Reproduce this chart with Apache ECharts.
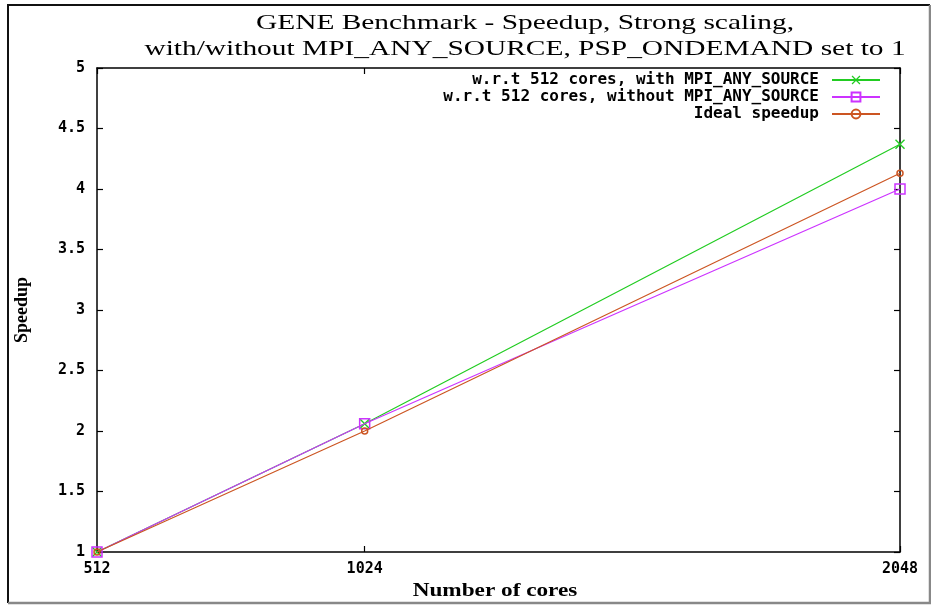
<!DOCTYPE html>
<html>
<head>
<meta charset="utf-8">
<script src="https://cdn.jsdelivr.net/npm/echarts@6.0.0/dist/echarts.min.js"></script>
<style>
  html, body { margin: 0; padding: 0; background: #fff; }
  #chart { width: 931px; height: 608px; }
</style>
</head>
<body>
<div id="chart"></div>
<script>
// Core counts and measured speedups (relative to 512 cores)
const cores = [512, 1024, 2048];
const withAnySource = [1, 2.06, 4.37];
const withoutAnySource = [1, 2.06, 4.0];
const idealSpeedup = [1, 2.0, 4.13];

const xTicks = [512, 1024, 2048];

const seriesNames = [
  'w.r.t 512 cores, with MPI_ANY_SOURCE',
  'w.r.t 512 cores, without MPI_ANY_SOURCE',
  'Ideal speedup'
];

const pairs = vals => cores.map((c, i) => [c, vals[i]]);

const tickFont = { fontFamily: 'DejaVu Sans Mono', fontWeight: 'bold', fontSize: 15, color: '#000' };
const legendFont = { fontFamily: 'DejaVu Sans Mono', fontWeight: 'bold', fontSize: 16, color: '#000' };
const serifBold = { fontFamily: 'Liberation Serif', fontWeight: 'bold', fontSize: 18, color: '#000' };

const crossPath = 'path://M0,1L1,0L5,4L9,0L10,1L6,5L10,9L9,10L5,6L1,10L0,9L4,5Z';

const chart = echarts.init(document.getElementById('chart'), null, { renderer: 'canvas' });

const legendRows = [80, 97, 114];

chart.setOption({
  animation: false,
  backgroundColor: '#fff',
  grid: { left: 97, right: 31, top: 68, bottom: 56, show: false },
  graphic: [
    {
      type: 'polyline', silent: true, z: 0,
      shape: { points: [[8, 603], [8, 5], [930, 5]] },
      style: { stroke: '#111', lineWidth: 2, fill: null }
    },
    {
      type: 'polyline', silent: true, z: 0,
      shape: { points: [[930, 5], [930, 603], [8, 603]] },
      style: { stroke: '#888', lineWidth: 2.5, fill: null }
    },
    {
      // two-line title, widened like the rest of the plot's lettering
      type: 'text', silent: true,
      x: 525, y: 10, scaleX: 1.4,
      style: {
        text: 'GENE Benchmark - Speedup, Strong scaling,\nwith/without MPI_ANY_SOURCE, PSP_ONDEMAND set to 1',
        fontFamily: 'Liberation Serif', fontSize: 21, lineHeight: 26,
        fill: '#000', align: 'center', verticalAlign: 'top'
      }
    },
    {
      type: 'text', silent: true,
      x: 495, y: 591, scaleX: 1.29,
      style: {
        text: 'Number of cores',
        fontFamily: 'Liberation Serif', fontWeight: 'bold', fontSize: 18,
        fill: '#000', align: 'center', verticalAlign: 'middle'
      }
    }
  ],
  legend: seriesNames.map((name, i) => ({
    data: [name],
    orient: 'vertical',
    align: 'right',
    right: 50,
    top: legendRows[i] - 8,
    itemWidth: 48,
    itemHeight: 11,
    itemGap: 0,
    padding: 0,
    textStyle: { ...legendFont, padding: [0, 8, 0, 0] },
    selectedMode: false
  })),
  xAxis: [
    {
      type: 'value', min: 512, max: 2048,
      axisLine: { show: true, onZero: false, lineStyle: { color: '#000', width: 1.5 } },
      axisTick: { show: true, inside: true, length: 6, customValues: xTicks, lineStyle: { color: '#000', width: 1.2 } },
      axisLabel: { show: true, customValues: xTicks, margin: 10, ...tickFont, formatter: v => String(v) },
      splitLine: { show: false }
    },
    {
      type: 'value', min: 512, max: 2048, position: 'top',
      axisLine: { show: true, onZero: false, lineStyle: { color: '#000', width: 1.5 } },
      axisTick: { show: true, inside: true, length: 6, customValues: xTicks, lineStyle: { color: '#000', width: 1.2 } },
      axisLabel: { show: false },
      splitLine: { show: false }
    }
  ],
  yAxis: [
    {
      type: 'value', min: 1, max: 5, interval: 0.5,
      name: 'Speedup', nameLocation: 'middle', nameGap: 66, nameRotate: 90,
      nameTextStyle: serifBold,
      axisLine: { show: true, onZero: false, lineStyle: { color: '#000', width: 1.5 } },
      axisTick: { show: true, inside: true, length: 6, lineStyle: { color: '#000', width: 1.2 } },
      axisLabel: { show: true, margin: 12, ...tickFont, formatter: v => String(v) },
      splitLine: { show: false }
    },
    {
      type: 'value', min: 1, max: 5, interval: 0.5, position: 'right',
      axisLine: { show: true, onZero: false, lineStyle: { color: '#000', width: 1.5 } },
      axisTick: { show: true, inside: true, length: 6, lineStyle: { color: '#000', width: 1.2 } },
      axisLabel: { show: false },
      splitLine: { show: false }
    }
  ],
  series: [
    {
      name: seriesNames[0], type: 'line', data: pairs(withAnySource),
      symbol: crossPath, symbolSize: 10,
      itemStyle: { color: '#22cc22' },
      lineStyle: { color: '#22cc22', width: 1.2 },
      z: 3
    },
    {
      name: seriesNames[1], type: 'line', data: pairs(withoutAnySource),
      symbol: 'rect', symbolSize: 10,
      itemStyle: { color: 'rgba(255,255,255,0)', borderColor: '#cc33ff', borderWidth: 1.5 },
      lineStyle: { color: '#cc33ff', width: 1.2 },
      z: 4
    },
    {
      name: seriesNames[2], type: 'line', data: pairs(idealSpeedup),
      symbol: 'circle', symbolSize: 6,
      itemStyle: { color: 'rgba(255,255,255,0)', borderColor: '#cc5522', borderWidth: 1.5 },
      lineStyle: { color: '#cc5522', width: 1.2 },
      z: 5
    }
  ]
});
</script>
</body>
</html>
